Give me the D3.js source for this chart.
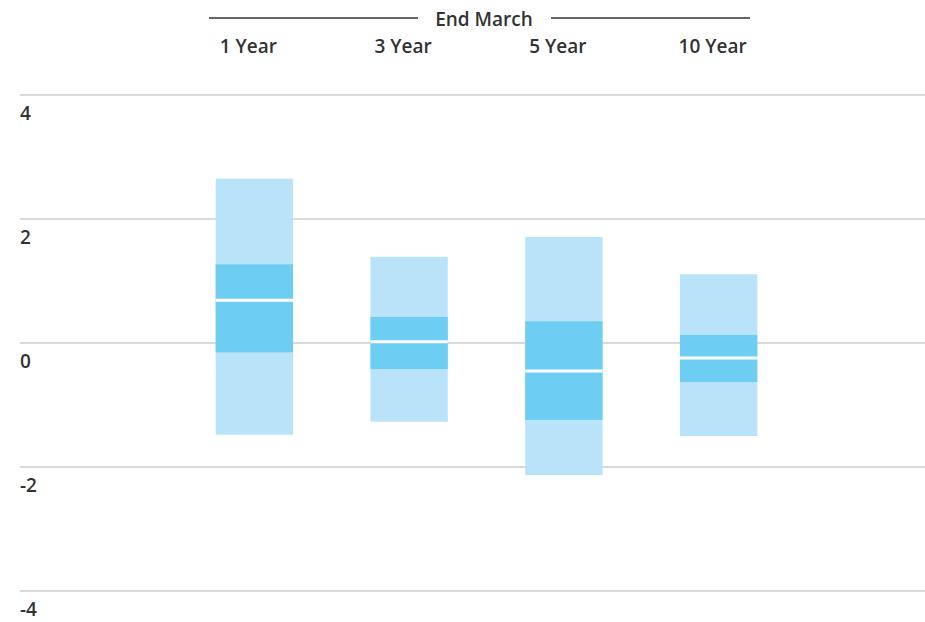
<!DOCTYPE html>
<html><head><meta charset="utf-8">
<script src="https://cdn.jsdelivr.net/npm/d3@7"></script>
<style>body{margin:0;background:#fff}text{font-family:"Open Sans",sans-serif;}</style>
</head><body><svg id="c" width="925" height="622"></svg>
<script>
const categories=["1 Year","3 Year","5 Year","10 Year"];
const outerHigh=[2.65,1.39,1.71,1.11];
const outerLow=[-1.48,-1.27,-2.13,-1.50];
const innerHigh=[1.27,0.42,0.35,0.13];
const innerLow=[-0.15,-0.42,-1.24,-0.63];
const medians=[0.69,0.02,-0.45,-0.24];
const yTicks=[4,2,0,-2,-4];
const header="End March";

const svg=d3.select("#c");
const y=d3.scaleLinear().domain([-4,4]).range([591,95]);
const x=d3.scaleBand().domain(categories).range([177,796]).paddingInner(0.5).paddingOuter(0.25);

const g=svg.append("g");
yTicks.forEach(t=>{
  g.append("line").attr("x1",20).attr("x2",925).attr("y1",y(t)).attr("y2",y(t)).attr("stroke","#ccc").attr("stroke-width",1.5);
  g.append("text").attr("x",20).attr("y",y(t)+25).text(t).attr("font-size",19).attr("font-weight",600).attr("fill","#333");
});
categories.forEach((c,i)=>{
  const x0=x(c),w=x.bandwidth();
  g.append("rect").attr("x",x0).attr("width",w).attr("y",y(outerHigh[i])).attr("height",y(outerLow[i])-y(outerHigh[i])).attr("fill","#b9e3f9");
  g.append("rect").attr("x",x0).attr("width",w).attr("y",y(innerHigh[i])).attr("height",y(innerLow[i])-y(innerHigh[i])).attr("fill","#6dcdf3");
  g.append("line").attr("x1",x0).attr("x2",x0+w).attr("y1",y(medians[i])).attr("y2",y(medians[i])).attr("stroke","#fff").attr("stroke-width",3);
  g.append("text").attr("x",x0+w/2-6).attr("y",53).attr("text-anchor","middle").attr("font-size",19).attr("font-weight",600).attr("fill","#333").text(c);
});
g.append("text").attr("x",484).attr("y",26).attr("text-anchor","middle").attr("font-size",19).attr("font-weight",600).attr("fill","#333").text(header);
g.append("line").attr("x1",209).attr("x2",418).attr("y1",18).attr("y2",18).attr("stroke","#333").attr("stroke-width",1.5);
g.append("line").attr("x1",551).attr("x2",750).attr("y1",18).attr("y2",18).attr("stroke","#333").attr("stroke-width",1.5);
</script></body></html>
